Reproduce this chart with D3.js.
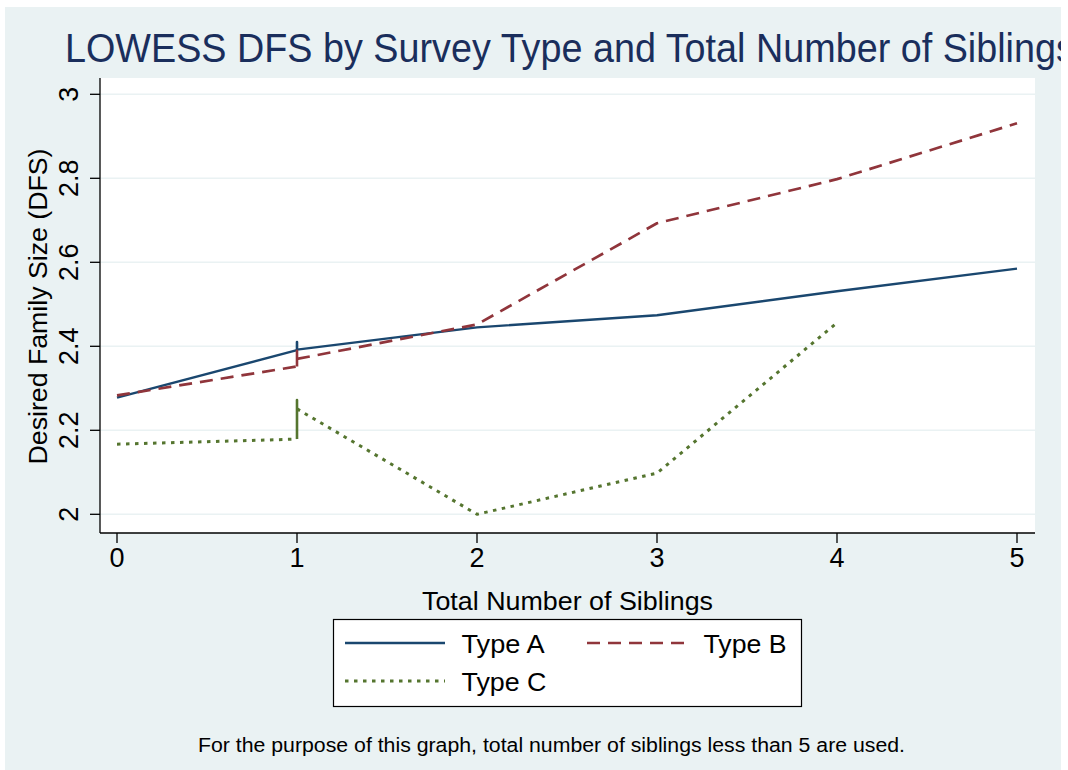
<!DOCTYPE html>
<html>
<head>
<meta charset="utf-8">
<script src="https://cdn.jsdelivr.net/npm/d3@7"></script>
<style>
  html, body { margin: 0; padding: 0; background: #ffffff; }
  svg { display: block; }
  text { font-family: "Liberation Sans", Arial, Helvetica, sans-serif; }
</style>
</head>
<body>
<svg id="chart" width="1068" height="770"></svg>
<script>
// ---- data ----
const titleText = "LOWESS DFS by Survey Type and Total Number of Siblings";
const xTitle = "Total Number of Siblings";
const yTitle = "Desired Family Size (DFS)";
const noteText = "For the purpose of this graph, total number of siblings less than 5 are used.";
const xTicks = [0, 1, 2, 3, 4, 5];
const yTicks = [2, 2.2, 2.4, 2.6, 2.8, 3];
const seriesNames = ["Type A", "Type B", "Type C"];
// smoothed values in plotting order (x = 1 carries more than one value)
const typeAX = [0, 1, 1, 1, 2, 3, 4, 5];
const typeAY = [2.278, 2.391, 2.410, 2.392, 2.445, 2.474, 2.531, 2.585];
const typeBX = [0, 1, 1, 1, 2, 3, 4, 5];
const typeBY = [2.283, 2.352, 2.389, 2.370, 2.452, 2.693, 2.798, 2.931];
const typeCX = [0, 1, 1, 1, 2, 3, 4];
const typeCY = [2.167, 2.179, 2.272, 2.251, 2.000, 2.098, 2.456];

// ---- styling ----
const styles = [
  { color: "#1a476f", width: 2.4, dash: null },
  { color: "#90353b", width: 2.7, dash: "13,8" },
  { color: "#55752f", width: 3, dash: "3.5,5.5" }
];
const bg = "#eaf2f3";
const FONT = '"Liberation Sans", Arial, Helvetica, sans-serif';

const svg = d3.select("#chart");
const plot = { left: 100, right: 1035, top: 78, bottom: 533 };

// outer graph region
svg.append("rect").attr("x", 5).attr("y", 7).attr("width", 1056).attr("height", 763).attr("fill", bg);

svg.append("defs").append("clipPath").attr("id", "graphClip")
  .append("rect").attr("x", 5).attr("y", 7).attr("width", 1056).attr("height", 763);

// plot region
svg.append("rect")
  .attr("x", plot.left).attr("y", plot.top)
  .attr("width", plot.right - plot.left).attr("height", plot.bottom - plot.top)
  .attr("fill", "#ffffff");

const x = d3.scaleLinear().domain([0, 5]).range([117, 1017]);
const y = d3.scaleLinear().domain([2, 3]).range([514.3, 94.3]);

// gridlines
svg.append("g").selectAll("line").data(yTicks).join("line")
  .attr("x1", plot.left).attr("x2", plot.right)
  .attr("y1", d => y(d)).attr("y2", d => y(d))
  .attr("stroke", bg).attr("stroke-width", 1.6);

// series
const series = [
  { xs: typeAX, ys: typeAY },
  { xs: typeBX, ys: typeBY },
  { xs: typeCX, ys: typeCY }
];
series.forEach((s, i) => {
  const pts = s.xs.map((v, j) => [v, s.ys[j]]);
  const st = styles[i];
  const g = svg.append("g");
  // split into runs; steps at the same x are drawn solid
  const runs = [];
  let cur = [pts[0]];
  for (let j = 1; j < pts.length; j++) {
    const vertical = pts[j][0] === pts[j - 1][0];
    const prevVertical = cur.length > 1 && cur[cur.length - 1][0] === cur[cur.length - 2][0];
    if (cur.length > 1 && vertical !== prevVertical) {
      runs.push({ pts: cur, vertical: prevVertical });
      cur = [pts[j - 1]];
    }
    cur.push(pts[j]);
  }
  runs.push({ pts: cur, vertical: cur[cur.length - 1][0] === cur[cur.length - 2][0] });
  const line = d3.line().x(d => x(d[0])).y(d => y(d[1]));
  runs.forEach(r => {
    g.append("path").attr("d", line(r.pts))
      .attr("fill", "none")
      .attr("stroke", st.color)
      .attr("stroke-width", r.vertical ? 2.6 : st.width)
      .attr("stroke-dasharray", r.vertical ? null : st.dash)
      .attr("stroke-linejoin", "round");
  });
});

// axes
const yAxis = svg.append("g");
yAxis.append("line").attr("x1", plot.left).attr("x2", plot.left)
  .attr("y1", plot.top).attr("y2", plot.bottom).attr("stroke", "#000").attr("stroke-width", 1.3);
yAxis.selectAll(".tk").data(yTicks).join("line")
  .attr("x1", plot.left - 10).attr("x2", plot.left)
  .attr("y1", d => y(d)).attr("y2", d => y(d))
  .attr("stroke", "#000").attr("stroke-width", 1.3);
yAxis.selectAll(".lb").data(yTicks).join("text")
  .attr("transform", d => `translate(78,${y(d)}) rotate(-90)`)
  .attr("text-anchor", "middle")
  .attr("font-size", 27).attr("fill", "#000")
  .text(d => d3.format("~g")(d));

const xAxis = svg.append("g");
xAxis.append("line").attr("x1", plot.left).attr("x2", plot.right)
  .attr("y1", plot.bottom).attr("y2", plot.bottom).attr("stroke", "#000").attr("stroke-width", 1.3);
xAxis.selectAll(".tk").data(xTicks).join("line")
  .attr("x1", d => x(d)).attr("x2", d => x(d))
  .attr("y1", plot.bottom).attr("y2", plot.bottom + 10)
  .attr("stroke", "#000").attr("stroke-width", 1.3);
xAxis.selectAll(".lb").data(xTicks).join("text")
  .attr("x", d => x(d)).attr("y", 567)
  .attr("text-anchor", "middle")
  .attr("font-size", 27).attr("fill", "#000")
  .text(d => d);

function fitText(sel, target) {
  sel.attr("textLength", target).attr("lengthAdjust", "spacingAndGlyphs");
  return sel;
}

// axis titles
fitText(svg.append("text")
  .attr("transform", `translate(47,${(plot.top + plot.bottom) / 2 + 1}) rotate(-90)`)
  .attr("text-anchor", "middle")
  .attr("font-size", 26).attr("fill", "#000")
  .text(yTitle), 316);

fitText(svg.append("text")
  .attr("x", 567.5).attr("y", 610)
  .attr("text-anchor", "middle")
  .attr("font-size", 26).attr("fill", "#000")
  .text(xTitle), 291);

// title, compressed so "Sibling" ends near the right edge; clipped at the graph edge
const titleSize = 40;
const measure = svg.append("text").attr("font-size", titleSize).attr("font-family", FONT).attr("visibility", "hidden");
const fullLen = measure.text(titleText).node().getComputedTextLength();
const partLen = measure.text(titleText.slice(0, -1)).node().getComputedTextLength();
measure.remove();
const titleScale = (1056 - 65) / partLen;
fitText(svg.append("g").attr("clip-path", "url(#graphClip)").append("text")
  .attr("x", 65).attr("y", 62)
  .attr("font-size", titleSize).attr("fill", "#1a2e5c")
  .text(titleText), fullLen * titleScale);

// legend
const lg = svg.append("g");
lg.append("rect").attr("x", 333.5).attr("y", 619.5).attr("width", 468).attr("height", 87)
  .attr("fill", "#fff").attr("stroke", "#000").attr("stroke-width", 1.2);
const legendPos = [
  { lx: 345, tx: 461.5, cy: 643, tw: 83 },
  { lx: 587, tx: 703.5, cy: 643, tw: 83 },
  { lx: 345, tx: 461.5, cy: 681, tw: 85 }
];
seriesNames.forEach((name, i) => {
  const p = legendPos[i], st = styles[i];
  lg.append("line").attr("x1", p.lx).attr("x2", p.lx + 100)
    .attr("y1", p.cy).attr("y2", p.cy)
    .attr("stroke", st.color).attr("stroke-width", st.width)
    .attr("stroke-dasharray", st.dash);
  fitText(lg.append("text").attr("x", p.tx).attr("y", p.cy + 9.5)
    .attr("font-size", 26).attr("fill", "#000").text(name), p.tw);
});

// note
fitText(svg.append("text")
  .attr("x", 551.5).attr("y", 752)
  .attr("text-anchor", "middle")
  .attr("font-size", 20).attr("fill", "#000")
  .text(noteText), 707);
</script>
</body>
</html>
